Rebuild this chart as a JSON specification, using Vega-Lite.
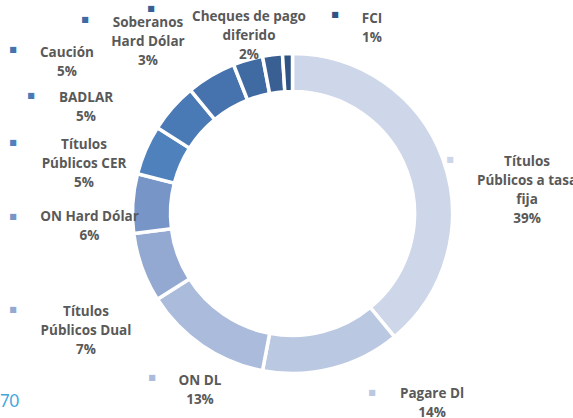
{
  "$schema": "https://vega.github.io/schema/vega-lite/v6.json",
  "width": 561,
  "height": 409,
  "autosize": "none",
  "padding": {"left": 12, "top": 9, "right": 0, "bottom": 0},
  "background": "white",
  "view": {"stroke": null},
  "title": {"text": "70", "orient": "bottom", "anchor": "start", "offset": -26, "dx": -12, "color": "#3fa6de", "fontSize": 16.5, "fontWeight": "normal", "font": "Lato", "frame": "group"},
  "data": {"values": [
    {"order": 1, "cat": "Títulos Públicos a tasa fija", "pct": 39, "label": "Títulos\nPúblicos a tasa\nfija\n39%"},
    {"order": 2, "cat": "Pagare Dl", "pct": 14, "label": "Pagare Dl\n14%"},
    {"order": 3, "cat": "ON DL", "pct": 13, "label": "ON DL\n13%"},
    {"order": 4, "cat": "Títulos Públicos Dual", "pct": 7, "label": "Títulos\nPúblicos Dual\n7%"},
    {"order": 5, "cat": "ON Hard Dólar", "pct": 6, "label": "ON Hard Dólar\n6%"},
    {"order": 6, "cat": "Títulos Públicos CER", "pct": 5, "label": "Títulos\nPúblicos CER\n5%"},
    {"order": 7, "cat": "BADLAR", "pct": 5, "label": "BADLAR\n5%"},
    {"order": 8, "cat": "Caución", "pct": 5, "label": "Caución\n5%"},
    {"order": 9, "cat": "Soberanos Hard Dólar", "pct": 3, "label": "Soberanos\nHard Dólar\n3%"},
    {"order": 10, "cat": "Cheques de pago diferido", "pct": 2, "label": "Cheques de pago\ndiferido\n2%"},
    {"order": 11, "cat": "FCI", "pct": 1, "label": "FCI\n1%"}
  ]},
  "transform": [{"stack": "pct", "groupby": [], "sort": [{"field": "order", "order": "ascending"}], "as": ["s0", "s1"]}],
  "encoding": {
    "theta": {"field": "s0", "type": "quantitative", "scale": {"domain": [0, 100]}},
    "color": {"field": "cat", "type": "nominal", "legend": null, "scale": {
      "domain": ["Títulos Públicos a tasa fija", "Pagare Dl", "ON DL", "Títulos Públicos Dual", "ON Hard Dólar", "Títulos Públicos CER", "BADLAR", "Caución", "Soberanos Hard Dólar", "Cheques de pago diferido", "FCI"],
      "range": ["#cdd7e9", "#bbc8e2", "#aabbdb", "#94a9d1", "#7895c7", "#4f81bd", "#4a7ab6", "#4673ad", "#406aa2", "#3a5f93", "#2f5382"]}}
  },
  "layer": [
    {"mark": {"type": "arc", "outerRadius": 160, "innerRadius": 122, "stroke": "white", "strokeWidth": 3.5},
     "encoding": {"theta2": {"field": "s1"}}},

    {"transform": [{"filter": "datum.cat === 'Títulos Públicos a tasa fija'"}],
     "mark": {"type": "text", "radius": 235.7, "thetaOffset": 1.4710, "dy": -28.5, "font": "Open Sans", "fontWeight": "bold", "fontSize": 13.5, "lineBreak": "\n", "lineHeight": 19, "align": "center", "baseline": "middle"},
     "encoding": {"color": {"value": "#595959"}, "text": {"field": "label"}}},
    {"transform": [{"filter": "datum.cat === 'Pagare Dl'"}],
     "mark": {"type": "text", "radius": 236.1, "thetaOffset": 0.0590, "dy": -9.5, "font": "Open Sans", "fontWeight": "bold", "fontSize": 13.5, "lineBreak": "\n", "lineHeight": 19, "align": "center", "baseline": "middle"},
     "encoding": {"color": {"value": "#595959"}, "text": {"field": "label"}}},
    {"transform": [{"filter": "datum.cat === 'ON DL'"}],
     "mark": {"type": "text", "radius": 199.3, "thetaOffset": 0.2943, "dy": -9.5, "font": "Open Sans", "fontWeight": "bold", "fontSize": 13.5, "lineBreak": "\n", "lineHeight": 19, "align": "center", "baseline": "middle"},
     "encoding": {"color": {"value": "#595959"}, "text": {"field": "label"}}},
    {"transform": [{"filter": "datum.cat === 'Títulos Públicos Dual'"}],
     "mark": {"type": "text", "radius": 237.6, "thetaOffset": 0.0482, "dy": -19, "font": "Open Sans", "fontWeight": "bold", "fontSize": 13.5, "lineBreak": "\n", "lineHeight": 19, "align": "center", "baseline": "middle"},
     "encoding": {"color": {"value": "#595959"}, "text": {"field": "label"}}},
    {"transform": [{"filter": "datum.cat === 'ON Hard Dólar'"}],
     "mark": {"type": "text", "radius": 203.4, "thetaOffset": 0.0593, "dy": -9.5, "font": "Open Sans", "fontWeight": "bold", "fontSize": 13.5, "lineBreak": "\n", "lineHeight": 19, "align": "center", "baseline": "middle"},
     "encoding": {"color": {"value": "#595959"}, "text": {"field": "label"}}},
    {"transform": [{"filter": "datum.cat === 'Títulos Públicos CER'"}],
     "mark": {"type": "text", "radius": 214.3, "thetaOffset": -0.0182, "dy": -19, "font": "Open Sans", "fontWeight": "bold", "fontSize": 13.5, "lineBreak": "\n", "lineHeight": 19, "align": "center", "baseline": "middle"},
     "encoding": {"color": {"value": "#595959"}, "text": {"field": "label"}}},
    {"transform": [{"filter": "datum.cat === 'BADLAR'"}],
     "mark": {"type": "text", "radius": 232.3, "thetaOffset": -0.0894, "dy": -9.5, "font": "Open Sans", "fontWeight": "bold", "fontSize": 13.5, "lineBreak": "\n", "lineHeight": 19, "align": "center", "baseline": "middle"},
     "encoding": {"color": {"value": "#595959"}, "text": {"field": "label"}}},
    {"transform": [{"filter": "datum.cat === 'Caución'"}],
     "mark": {"type": "text", "radius": 271.7, "thetaOffset": -0.2882, "dy": -9.5, "font": "Open Sans", "fontWeight": "bold", "fontSize": 13.5, "lineBreak": "\n", "lineHeight": 19, "align": "center", "baseline": "middle"},
     "encoding": {"color": {"value": "#595959"}, "text": {"field": "label"}}},
    {"transform": [{"filter": "datum.cat === 'Soberanos Hard Dólar'"}],
     "mark": {"type": "text", "radius": 224.3, "thetaOffset": -0.3232, "dy": -19, "font": "Open Sans", "fontWeight": "bold", "fontSize": 13.5, "lineBreak": "\n", "lineHeight": 19, "align": "center", "baseline": "middle"},
     "encoding": {"color": {"value": "#595959"}, "text": {"field": "label"}}},
    {"transform": [{"filter": "datum.cat === 'Cheques de pago diferido'"}],
     "mark": {"type": "text", "radius": 182.8, "thetaOffset": -0.0518, "dy": -19, "font": "Open Sans", "fontWeight": "bold", "fontSize": 13.5, "lineBreak": "\n", "lineHeight": 19, "align": "center", "baseline": "middle"},
     "encoding": {"color": {"value": "#595959"}, "text": {"field": "label"}}},
    {"transform": [{"filter": "datum.cat === 'FCI'"}],
     "mark": {"type": "text", "radius": 201.8, "thetaOffset": 0.4677, "dy": -9.5, "font": "Open Sans", "fontWeight": "bold", "fontSize": 13.5, "lineBreak": "\n", "lineHeight": 19, "align": "center", "baseline": "middle"},
     "encoding": {"color": {"value": "#595959"}, "text": {"field": "label"}}},

    {"transform": [{"filter": "datum.cat === 'Títulos Públicos a tasa fija'"}],
     "mark": {"type": "text", "text": "■", "radius": 235.7, "thetaOffset": 1.4710, "dx": -77, "dy": -30, "font": "DejaVu Sans", "fontSize": 8, "align": "center", "baseline": "middle"}},
    {"transform": [{"filter": "datum.cat === 'Pagare Dl'"}],
     "mark": {"type": "text", "text": "■", "radius": 236.1, "thetaOffset": 0.0590, "dx": -60, "dy": -11, "font": "DejaVu Sans", "fontSize": 8, "align": "center", "baseline": "middle"}},
    {"transform": [{"filter": "datum.cat === 'ON DL'"}],
     "mark": {"type": "text", "text": "■", "radius": 199.3, "thetaOffset": 0.2943, "dx": -48, "dy": -12, "font": "DejaVu Sans", "fontSize": 8, "align": "center", "baseline": "middle"}},
    {"transform": [{"filter": "datum.cat === 'Títulos Públicos Dual'"}],
     "mark": {"type": "text", "text": "■", "radius": 237.6, "thetaOffset": 0.0482, "dx": -73, "dy": -21, "font": "DejaVu Sans", "fontSize": 8, "align": "center", "baseline": "middle"}},
    {"transform": [{"filter": "datum.cat === 'ON Hard Dólar'"}],
     "mark": {"type": "text", "text": "■", "radius": 203.4, "thetaOffset": 0.0593, "dx": -76.5, "dy": -10, "font": "DejaVu Sans", "fontSize": 8, "align": "center", "baseline": "middle"}},
    {"transform": [{"filter": "datum.cat === 'Títulos Públicos CER'"}],
     "mark": {"type": "text", "text": "■", "radius": 214.3, "thetaOffset": -0.0182, "dx": -71, "dy": -21, "font": "DejaVu Sans", "fontSize": 8, "align": "center", "baseline": "middle"}},
    {"transform": [{"filter": "datum.cat === 'BADLAR'"}],
     "mark": {"type": "text", "text": "■", "radius": 232.3, "thetaOffset": -0.0894, "dx": -55, "dy": -11, "font": "DejaVu Sans", "fontSize": 8, "align": "center", "baseline": "middle"}},
    {"transform": [{"filter": "datum.cat === 'Caución'"}],
     "mark": {"type": "text", "text": "■", "radius": 271.7, "thetaOffset": -0.2882, "dx": -54, "dy": -12, "font": "DejaVu Sans", "fontSize": 8, "align": "center", "baseline": "middle"}},
    {"transform": [{"filter": "datum.cat === 'Soberanos Hard Dólar'"}],
     "mark": {"type": "text", "text": "■", "radius": 224.3, "thetaOffset": -0.3232, "dx": -63, "dy": -22, "font": "DejaVu Sans", "fontSize": 8, "align": "center", "baseline": "middle"}},
    {"transform": [{"filter": "datum.cat === 'Cheques de pago diferido'"}],
     "mark": {"type": "text", "text": "■", "radius": 182.8, "thetaOffset": -0.0518, "dx": -98, "dy": -27, "font": "DejaVu Sans", "fontSize": 8, "align": "center", "baseline": "middle"}},
    {"transform": [{"filter": "datum.cat === 'FCI'"}],
     "mark": {"type": "text", "text": "■", "radius": 201.8, "thetaOffset": 0.4677, "dx": -37, "dy": -13, "font": "DejaVu Sans", "fontSize": 8, "align": "center", "baseline": "middle"}}
  ]
}
